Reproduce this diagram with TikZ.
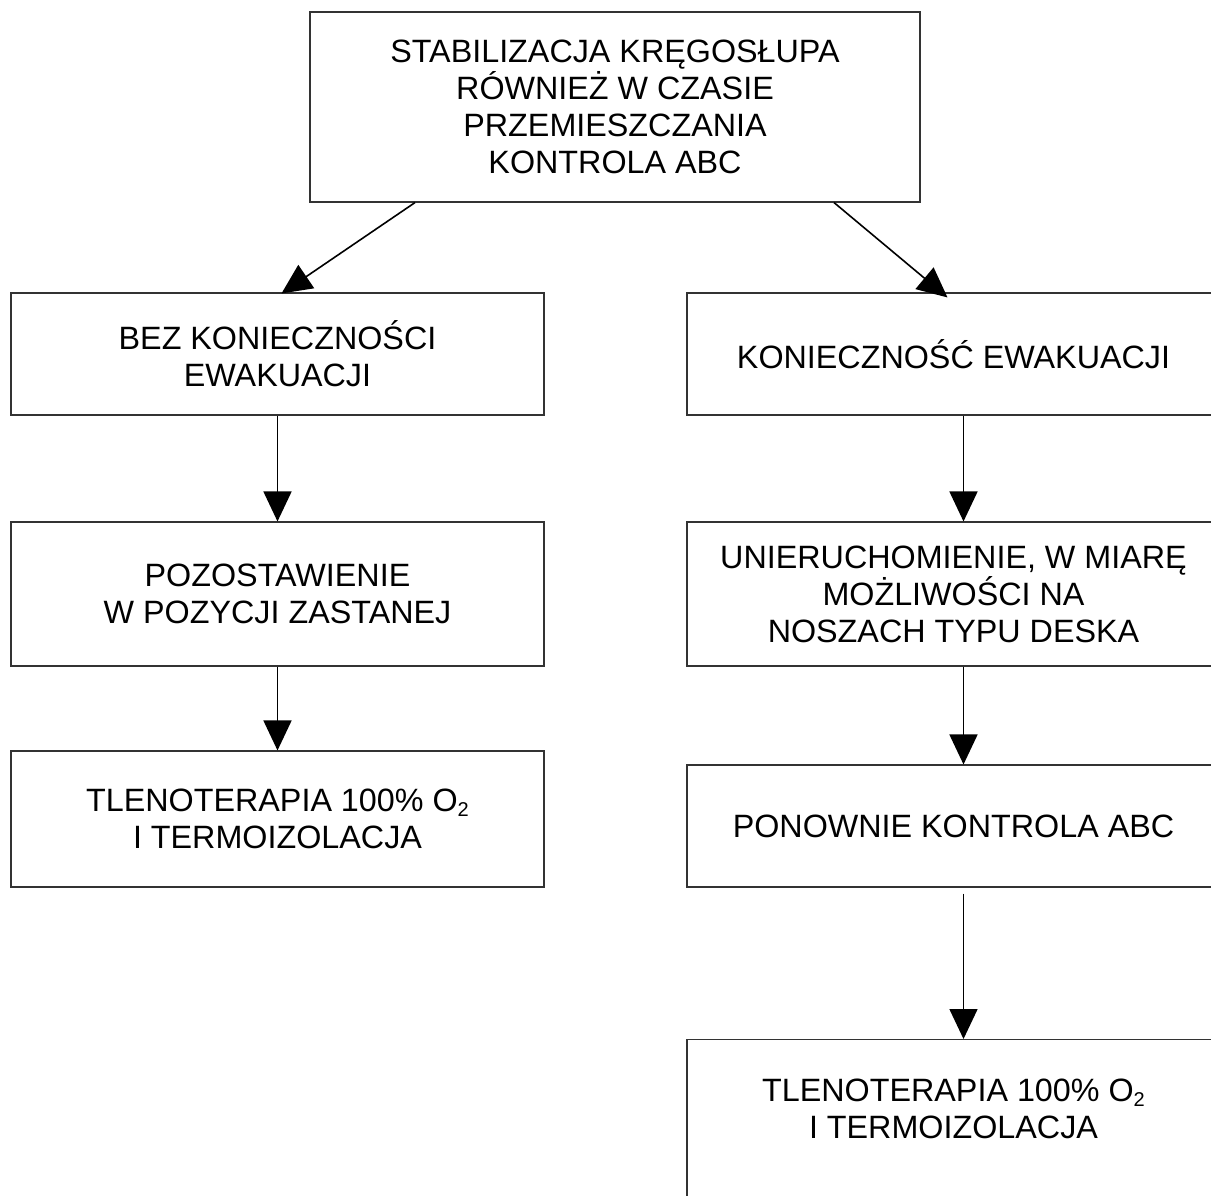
\documentclass[tikz,border=0pt]{standalone}
\usepackage{fontspec}
\setmainfont{Liberation Sans}
\usetikzlibrary{arrows.meta,positioning}

\newcommand{\Otwo}{O\raisebox{-5pt}{\fontsize{20}{20}\selectfont 2}}

\tikzset{
    flowbox/.style={draw=black!80, line width=1.1pt, align=center, inner sep=0pt,
        minimum width=533pt, font=\fontsize{32.3}{37}\selectfont},
    flowtext/.style={align=center, inner sep=0pt, font=\fontsize{32.3}{37}\selectfont},
    flowarrow/.style={line width=1.6pt, -{Triangle[length=30pt,width=28pt]}}
}

\begin{document}
\begin{tikzpicture}[x=1pt, y=-1pt]
            \useasboundingbox (0,0) rectangle (1211,1195);
            \clip (0,0) rectangle (1211,1195);

            % Top box - stabilisation
            \node[flowbox, minimum width=610pt, minimum height=190pt] (stab) at (615,107)
                {STABILIZACJA KRĘGOSŁUPA\\ RÓWNIEŻ W CZASIE\\ PRZEMIESZCZANIA\\ KONTROLA ABC};

            % Left column - no evacuation
            \node[flowbox, minimum height=122pt] (bez) at (277.5,354) {BEZ KONIECZNOŚCI\\ EWAKUACJI};
            \node[flowbox, minimum height=144pt] (poz) at (277.5,594) {POZOSTAWIENIE\\ W POZYCJI ZASTANEJ};
            \node[flowbox, minimum height=136pt] (tlenL) at (277.5,819) {TLENOTERAPIA 100\% \Otwo\\ I TERMOIZOLACJA};

            % Right column - evacuation
            \node[flowbox, minimum height=122pt] (kon) at (953.5,354) {KONIECZNOŚĆ EWAKUACJI};
            \node[flowbox, minimum height=144pt] (unier) at (953.5,594)
                {UNIERUCHOMIENIE, W MIARĘ\\ MOŻLIWOŚCI NA\\ NOSZACH TYPU DESKA};
            \node[flowbox, minimum height=122pt] (ponow) at (953.5,826) {PONOWNIE KONTROLA ABC};
            \node[flowbox, minimum height=200pt, anchor=north] (tlenR) at (953.5,1039) {};
            \node[flowtext, below=40pt of tlenR.north] (tlenRtxt) {TLENOTERAPIA 100\% \Otwo\\ I TERMOIZOLACJA};

            % Arrows from the top box
            \draw[flowarrow] ([xshift=-200pt]stab.south) -- ([xshift=4pt,yshift=-1pt]bez.north);
            \draw[flowarrow] ([xshift=219pt]stab.south) -- ([xshift=-6pt,yshift=-5pt]kon.north);

            % Arrows down the left column
            \draw[flowarrow] (bez.south) -- (poz.north);
            \draw[flowarrow] (poz.south) -- (tlenL.north);

            % Arrows down the right column
            \draw[flowarrow] ([xshift=10pt]kon.south) -- ([xshift=10pt]unier.north);
            \draw[flowarrow] ([xshift=10pt]unier.south) -- ([xshift=10pt]ponow.north);
            \draw[flowarrow, shorten <=6pt] ([xshift=10pt]ponow.south) -- ([xshift=10pt]tlenR.north);

        \end{tikzpicture}
\end{document}
